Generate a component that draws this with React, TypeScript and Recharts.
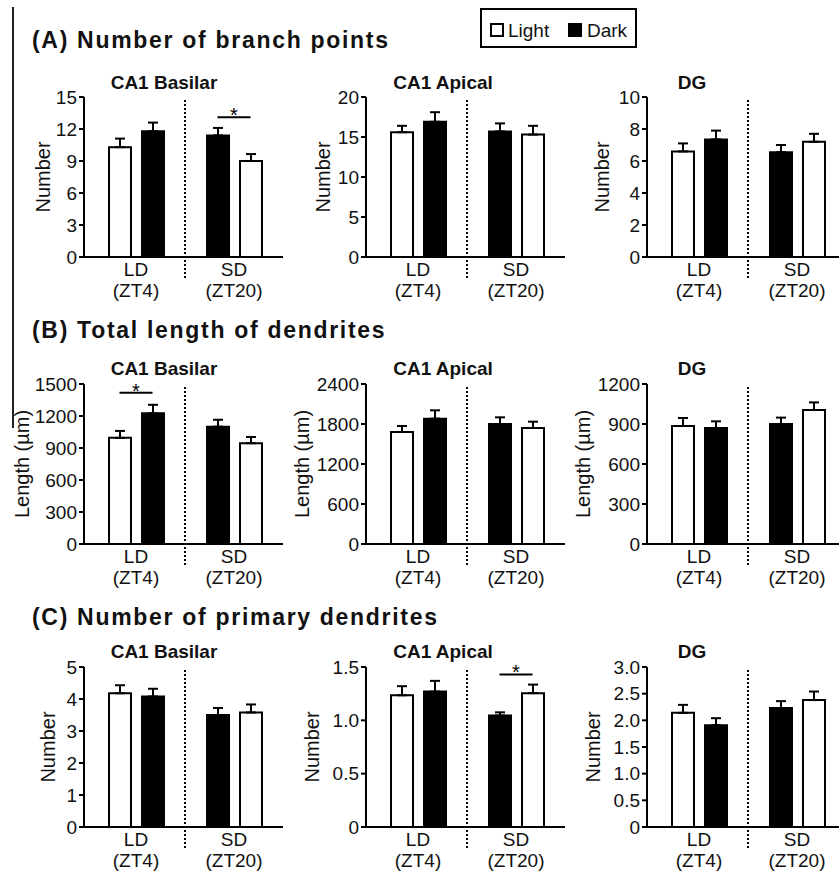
import React from 'react';
import { BarChart, Bar, XAxis, YAxis, Cell, ErrorBar, ReferenceLine, ReferenceDot } from 'recharts';

const FONT = '"Liberation Sans", Arial, Helvetica, sans-serif';

// x axis groups
const groups = ['LD', 'SD'];
const groupTimes = ['(ZT4)', '(ZT20)'];
// condition drawn first inside each group (LD: Light first, SD: Dark first)
const firstSeries = ['Light', 'Dark'];

const rowTitles = ['(A) Number of branch points', '(B) Total length of dendrites', '(C) Number of primary dendrites'];
const regionNames = ['CA1 Basilar', 'CA1 Apical', 'DG'];
const yLabels = ['Number', 'Length (µm)', 'Number'];

// (A) number of branch points  -> [LD, SD]
const branchBasilarLight = [10.3, 9.0];
const branchBasilarDark = [11.8, 11.4];
const branchBasilarLightSem = [0.8, 0.65];
const branchBasilarDarkSem = [0.8, 0.7];
const branchApicalLight = [15.6, 15.3];
const branchApicalDark = [16.9, 15.7];
const branchApicalLightSem = [0.8, 1.1];
const branchApicalDarkSem = [1.2, 1.0];
const branchDgLight = [6.6, 7.2];
const branchDgDark = [7.35, 6.55];
const branchDgLightSem = [0.5, 0.5];
const branchDgDarkSem = [0.55, 0.45];

// (B) total length of dendrites (µm)
const lengthBasilarLight = [995, 945];
const lengthBasilarDark = [1225, 1100];
const lengthBasilarLightSem = [65, 58];
const lengthBasilarDarkSem = [80, 65];
const lengthApicalLight = [1680, 1740];
const lengthApicalDark = [1880, 1800];
const lengthApicalLightSem = [90, 95];
const lengthApicalDarkSem = [125, 100];
const lengthDgLight = [885, 1005];
const lengthDgDark = [870, 900];
const lengthDgLightSem = [60, 57];
const lengthDgDarkSem = [50, 48];

// (C) number of primary dendrites
const primaryBasilarLight = [4.18, 3.58];
const primaryBasilarDark = [4.08, 3.5];
const primaryBasilarLightSem = [0.25, 0.25];
const primaryBasilarDarkSem = [0.24, 0.22];
const primaryApicalLight = [1.235, 1.255];
const primaryApicalDark = [1.27, 1.045];
const primaryApicalLightSem = [0.085, 0.08];
const primaryApicalDarkSem = [0.1, 0.03];
const primaryDgLight = [2.14, 2.38];
const primaryDgDark = [1.91, 2.23];
const primaryDgLightSem = [0.15, 0.16];
const primaryDgDarkSem = [0.13, 0.13];

// y ticks
const branchBasilarTicks = [0, 3, 6, 9, 12, 15];
const branchApicalTicks = [0, 5, 10, 15, 20];
const branchDgTicks = [0, 2, 4, 6, 8, 10];
const lengthBasilarTicks = [0, 300, 600, 900, 1200, 1500];
const lengthApicalTicks = [0, 600, 1200, 1800, 2400];
const lengthDgTicks = [0, 300, 600, 900, 1200];
const primaryBasilarTicks = [0, 1, 2, 3, 4, 5];
const primaryApicalTicks = [0, 0.5, 1.0, 1.5];
const primaryDgTicks = [0, 0.5, 1.0, 1.5, 2.0, 2.5, 3.0];

// significance bars: [group, height]
const branchBasilarSig: [string, number] = ['SD', 13.1];
const lengthBasilarSig: [string, number] = ['LD', 1418];
const primaryApicalSig: [string, number] = ['SD', 1.43];

// layout
const seriesFill: Record<string, string> = { Light: '#ffffff', Dark: '#000000' };
const Y_W = 75;
const M_TOP = 14;
const PLOT_H = 160;
const X_H = 50;
const X_W = 199;
const COL_AXIS_X = [84, 366, 647];
const ROW_PLOT_TOP = [97, 384, 667];
const Y_LABEL_X = [[43, 323, 602], [22, 302, 583], [48, 312, 593]];
const SUB_X = [164, 443, 692];
const SUB_Y = [82, 368, 651];
const TITLE_Y = [40, 330, 617];

function GroupTick(props: any) {
  const { x, y, payload } = props;
  const i = groups.indexOf(payload.value);
  return (
    <text x={x} y={y} textAnchor="middle" fontSize={19} fill="#111" fontFamily={FONT}>
      <tspan x={x} dy={19}>{payload.value}</tspan>
      <tspan x={x} dy={21}>{groupTimes[i]}</tspan>
    </text>
  );
}

function Panel({ row, col, light, dark, lightSem, darkSem, ticks, sig, decimals }: any) {
  const data = groups.map((g, i) => {
    const lightFirst = firstSeries[i] === 'Light';
    return {
      group: g,
      first: lightFirst ? light[i] : dark[i],
      second: lightFirst ? dark[i] : light[i],
      firstErr: [0, lightFirst ? lightSem[i] : darkSem[i]],
      secondErr: [0, lightFirst ? darkSem[i] : lightSem[i]],
      firstName: lightFirst ? 'Light' : 'Dark',
      secondName: lightFirst ? 'Dark' : 'Light',
    };
  });
  const left = COL_AXIS_X[col] - Y_W;
  const top = ROW_PLOT_TOP[row] - M_TOP;
  const labelX = Y_LABEL_X[row][col] - left;
  const max = ticks[ticks.length - 1];

  return (
    <div style={{ position: 'absolute', left, top }}>
      <BarChart
        width={Y_W + X_W + 2}
        height={M_TOP + PLOT_H + X_H}
        data={data}
        margin={{ top: M_TOP, right: 2, bottom: 0, left: 0 }}
        barSize={22}
        barGap={11}
      >
        <XAxis
          dataKey="group"
          type="category"
          height={X_H}
          padding={{ left: 3, right: 0 }}
          axisLine={{ stroke: '#000', strokeWidth: 2 }}
          tickLine={false}
          tickSize={0}
          tickMargin={0}
          interval={0}
          tick={<GroupTick />}
        />
        <YAxis
          width={Y_W}
          domain={[0, max]}
          ticks={ticks}
          interval={0}
          axisLine={{ stroke: '#000', strokeWidth: 2 }}
          tickLine={{ stroke: '#000', strokeWidth: 2 }}
          tickSize={5}
          tickMargin={2}
          tick={{ fontSize: 19, fill: '#111', fontFamily: FONT }}
          tickFormatter={(v: number) => (v === 0 ? '0' : v.toFixed(decimals))}
          label={(p: any) => {
            const vb = p && p.viewBox;
            const cy = vb && vb.height ? vb.y + vb.height / 2 : M_TOP + PLOT_H / 2;
            return (
              <text
                x={labelX}
                y={cy}
                transform={`rotate(-90, ${labelX}, ${cy})`}
                textAnchor="middle"
                dominantBaseline="central"
                fontSize={20}
                fill="#111"
                fontFamily={FONT}
              >
                {yLabels[row]}
              </text>
            );
          }}
        />
        <ReferenceLine
          x="SD"
          position="start"
          shape={(p: any) => (
            <line
              x1={p.x1}
              x2={p.x2}
              y1={Math.min(p.y1, p.y2) + 3}
              y2={Math.max(p.y1, p.y2) + 21}
              stroke="#000"
              strokeWidth={2}
              strokeDasharray="2 2"
            />
          )}
        />
        <Bar dataKey="first" isAnimationActive={false} stroke="#000" strokeWidth={2}>
          {data.map((d) => (
            <Cell key={d.group} fill={seriesFill[d.firstName]} stroke="#000" strokeWidth={2} />
          ))}
          <ErrorBar dataKey="firstErr" direction="y" width={5} stroke="#000" strokeWidth={2} isAnimationActive={false} />
        </Bar>
        <Bar dataKey="second" isAnimationActive={false} stroke="#000" strokeWidth={2}>
          {data.map((d) => (
            <Cell key={d.group} fill={seriesFill[d.secondName]} stroke="#000" strokeWidth={2} />
          ))}
          <ErrorBar dataKey="secondErr" direction="y" width={5} stroke="#000" strokeWidth={2} isAnimationActive={false} />
        </Bar>
        {sig && (
          <ReferenceDot
            x={sig[0]}
            y={sig[1]}
            r={0}
            shape={(p: any) => (
              <g>
                <line x1={p.cx - 16.5} x2={p.cx + 16.5} y1={p.cy} y2={p.cy} stroke="#000" strokeWidth={2} />
                <text x={p.cx} y={p.cy + 5} textAnchor="middle" fontSize={20} fill="#000" fontFamily={FONT}>
                  *
                </text>
              </g>
            )}
          />
        )}
      </BarChart>
    </div>
  );
}

const panels = [
  { row: 0, col: 0, light: branchBasilarLight, dark: branchBasilarDark, lightSem: branchBasilarLightSem, darkSem: branchBasilarDarkSem, ticks: branchBasilarTicks, sig: branchBasilarSig, decimals: 0 },
  { row: 0, col: 1, light: branchApicalLight, dark: branchApicalDark, lightSem: branchApicalLightSem, darkSem: branchApicalDarkSem, ticks: branchApicalTicks, sig: null, decimals: 0 },
  { row: 0, col: 2, light: branchDgLight, dark: branchDgDark, lightSem: branchDgLightSem, darkSem: branchDgDarkSem, ticks: branchDgTicks, sig: null, decimals: 0 },
  { row: 1, col: 0, light: lengthBasilarLight, dark: lengthBasilarDark, lightSem: lengthBasilarLightSem, darkSem: lengthBasilarDarkSem, ticks: lengthBasilarTicks, sig: lengthBasilarSig, decimals: 0 },
  { row: 1, col: 1, light: lengthApicalLight, dark: lengthApicalDark, lightSem: lengthApicalLightSem, darkSem: lengthApicalDarkSem, ticks: lengthApicalTicks, sig: null, decimals: 0 },
  { row: 1, col: 2, light: lengthDgLight, dark: lengthDgDark, lightSem: lengthDgLightSem, darkSem: lengthDgDarkSem, ticks: lengthDgTicks, sig: null, decimals: 0 },
  { row: 2, col: 0, light: primaryBasilarLight, dark: primaryBasilarDark, lightSem: primaryBasilarLightSem, darkSem: primaryBasilarDarkSem, ticks: primaryBasilarTicks, sig: null, decimals: 0 },
  { row: 2, col: 1, light: primaryApicalLight, dark: primaryApicalDark, lightSem: primaryApicalLightSem, darkSem: primaryApicalDarkSem, ticks: primaryApicalTicks, sig: primaryApicalSig, decimals: 1 },
  { row: 2, col: 2, light: primaryDgLight, dark: primaryDgDark, lightSem: primaryDgLightSem, darkSem: primaryDgDarkSem, ticks: primaryDgTicks, sig: null, decimals: 1 },
];

export default function App() {
  return (
    <div
      style={{
        position: 'absolute',
        left: 0,
        top: 0,
        width: 839,
        height: 872,
        overflow: 'hidden',
        background: '#fff',
        fontFamily: FONT,
        color: '#111',
      }}
    >
      {/* thin rule on the left edge */}
      <div style={{ position: 'absolute', left: 12, top: 7, width: 1.5, height: 421, background: '#222' }} />

      {rowTitles.map((t, r) => (
        <div
          key={t}
          style={{
            position: 'absolute',
            left: 32,
            top: TITLE_Y[r] - 11,
            fontSize: 23,
            lineHeight: 1,
            fontWeight: 'bold',
            letterSpacing: 1.7,
            whiteSpace: 'nowrap',
          }}
        >
          {t}
        </div>
      ))}

      {rowTitles.map((_, r) =>
        regionNames.map((name, c) => (
          <div
            key={`${r}-${name}`}
            style={{
              position: 'absolute',
              left: SUB_X[c],
              top: SUB_Y[r],
              transform: 'translate(-50%, -50%)',
              fontSize: 19,
              lineHeight: 1,
              fontWeight: 'bold',
              whiteSpace: 'nowrap',
            }}
          >
            {name}
          </div>
        ))
      )}

      {/* legend */}
      <div
        style={{
          position: 'absolute',
          left: 480,
          top: 8,
          width: 157,
          height: 40,
          boxSizing: 'border-box',
          border: '2px solid #000',
        }}
      >
        <div style={{ position: 'absolute', left: 8, top: 13, width: 14, height: 14, boxSizing: 'border-box', border: '2px solid #000', background: seriesFill.Light }} />
        <div style={{ position: 'absolute', left: 26, top: 11, fontSize: 19, lineHeight: 1 }}>Light</div>
        <div style={{ position: 'absolute', left: 86, top: 13, width: 14, height: 14, background: seriesFill.Dark }} />
        <div style={{ position: 'absolute', left: 105, top: 11, fontSize: 19, lineHeight: 1 }}>Dark</div>
      </div>

      {panels.map((p) => (
        <Panel key={`${p.row}-${p.col}`} {...p} />
      ))}
    </div>
  );
}
